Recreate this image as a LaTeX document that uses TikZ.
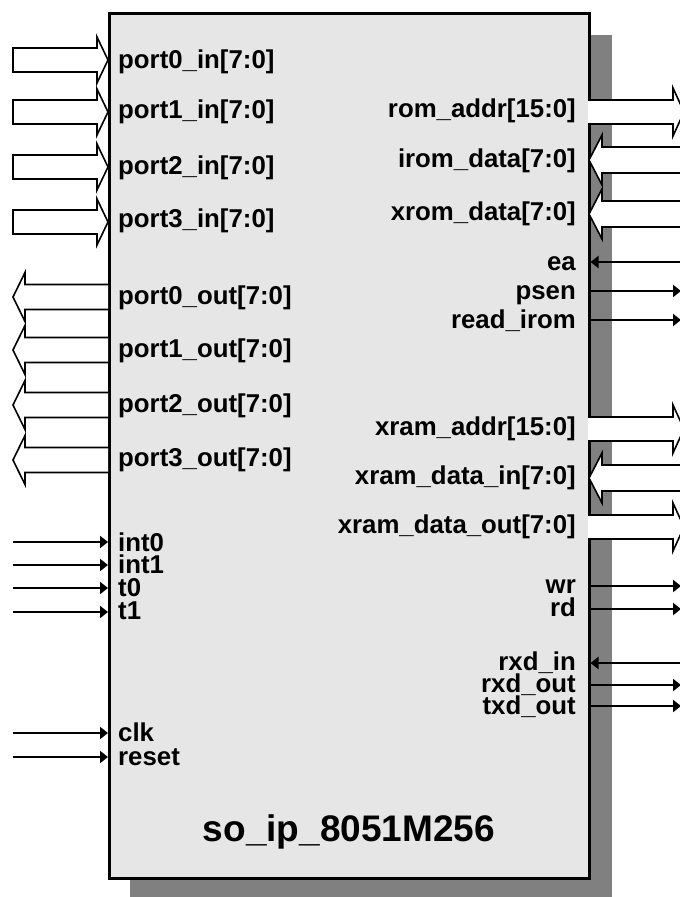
\documentclass[tikz,border=0pt]{standalone}
\usepackage{fontspec}
\setmainfont{Liberation Sans}
\usetikzlibrary{arrows.meta}
\definecolor{boxfill}{HTML}{E6E6E6}
\definecolor{shadowgray}{HTML}{808080}
\tikzset{
  lbl/.style={font=\fontsize{25.8}{27}\selectfont\bfseries, inner sep=0pt},
  ttl/.style={font=\fontsize{37}{40}\selectfont\bfseries, inner sep=0pt},
  bus/.style={draw=black, fill=white, line width=1.6pt, line join=miter},
  sig/.style={line width=2pt, -{Triangle[length=8pt,width=12pt]}},
}
% bus arrow pointing right into the block from the left
\newcommand\BusInLeft[1]{%
  \draw[bus] (13,#1-12) -- (97,#1-12) -- (97,#1-23) -- (108,#1) -- (97,#1+23) -- (97,#1+12) -- (13,#1+12) -- cycle;}
% bus arrow pointing left out of the block on the left
\newcommand\BusOutLeft[1]{%
  \draw[bus] (108,#1-12.5) -- (25,#1-12.5) -- (25,#1-24.5) -- (13,#1) -- (25,#1+24.5) -- (25,#1+12.5) -- (108,#1+12.5);}
% bus arrow pointing right out of the block on the right
\newcommand\BusOutRight[1]{%
  \draw[bus] (588,#1-12) -- (673,#1-12) -- (673,#1-24) -- (684,#1) -- (673,#1+24) -- (673,#1+12) -- (588,#1+12);}
% bus arrow pointing left into the block on the right
\newcommand\BusInRight[1]{%
  \draw[bus] (690,#1-13) -- (602,#1-13) -- (602,#1-25) -- (589,#1) -- (602,#1+25) -- (602,#1+13) -- (690,#1+13);}
\begin{document}
\begin{tikzpicture}[x=1pt,y=-1pt]
\useasboundingbox (0,0) rectangle (680,897);
% shadow and block
\fill[shadowgray] (130,35) rectangle (612,897);
\node[draw, line width=2.5pt, fill=boxfill, minimum width=480pt, minimum height=865pt,
      anchor=north west, inner sep=0pt] (blk) at (108,12) {};
\node[ttl] (title) at (349,832) {so\_ip\_8051M256};

% left bus inputs
\BusInLeft{60}
\BusInLeft{112}
\BusInLeft{167}
\BusInLeft{222}
% left bus outputs
\BusOutLeft{297}
\BusOutLeft{350}
\BusOutLeft{405}
\BusOutLeft{460}
% right buses
\BusOutRight{112}
\BusInRight{160}
\BusInRight{214}
\BusOutRight{429}
\BusInRight{478}
\BusOutRight{527}

% left single-bit inputs
\foreach \n/\y in {int0/542, int1/565, t0/588, t1/612, clk/733, reset/757}{
  \coordinate (\n src) at (13,\y);
  \draw[sig] (\n src) -- (\n src -| blk.west);
}
% right single-bit outputs
\foreach \n/\y in {psen/291, readirom/320, wr/586, rd/609, rxdout/685, txdout/706}{
  \coordinate (\n dst) at (681,\y);
  \draw[sig] (\n dst -| blk.east) -- (\n dst);
}
% right single-bit inputs
\foreach \n/\y in {ea/262, rxdin/663}{
  \coordinate (\n src) at (690,\y);
  \draw[sig] (\n src) -- (\n src -| blk.east);
}

% left labels
\node[lbl, anchor=west] (p0i) at (118,62) {port0\_in[7:0]};
\node[lbl, anchor=west] (p1i) at (118,112) {port1\_in[7:0]};
\node[lbl, anchor=west] (p2i) at (118,168) {port2\_in[7:0]};
\node[lbl, anchor=west] (p3i) at (118,221) {port3\_in[7:0]};
\node[lbl, anchor=west] (p0o) at (118,298) {port0\_out[7:0]};
\node[lbl, anchor=west] (p1o) at (118,351) {port1\_out[7:0]};
\node[lbl, anchor=west] (p2o) at (118,406) {port2\_out[7:0]};
\node[lbl, anchor=west] (p3o) at (118,460) {port3\_out[7:0]};
\node[lbl, anchor=base west] (i0) at (118,551) {int0};
\node[lbl, anchor=base west] (i1) at (118,573) {int1};
\node[lbl, anchor=base west] (t0) at (118,596) {t0};
\node[lbl, anchor=base west] (t1) at (118,619) {t1};
\node[lbl, anchor=base west] (ck) at (118,741) {clk};
\node[lbl, anchor=base west] (rs) at (118,765) {reset};

% right labels
\node[lbl, anchor=east] (ra) at (576,111) {rom\_addr[15:0]};
\node[lbl, anchor=east] (id) at (576,161) {irom\_data[7:0]};
\node[lbl, anchor=east] (xd) at (576,214) {xrom\_data[7:0]};
\node[lbl, anchor=base east] (ea) at (576,270) {ea};
\node[lbl, anchor=base east] (ps) at (576,299) {psen};
\node[lbl, anchor=base east] (ri) at (576,328) {read\_irom};
\node[lbl, anchor=east] (xa) at (576,429) {xram\_addr[15:0]};
\node[lbl, anchor=east] (xdi) at (576,478) {xram\_data\_in[7:0]};
\node[lbl, anchor=east] (xdo) at (576,527) {xram\_data\_out[7:0]};
\node[lbl, anchor=base east] (wr) at (576,593) {wr};
\node[lbl, anchor=base east] (rd) at (576,616) {rd};
\node[lbl, anchor=base east] (rxi) at (576,670) {rxd\_in};
\node[lbl, anchor=base east] (rxo) at (576,692) {rxd\_out};
\node[lbl, anchor=base east] (txo) at (576,714) {txd\_out};
\end{tikzpicture}
\end{document}
